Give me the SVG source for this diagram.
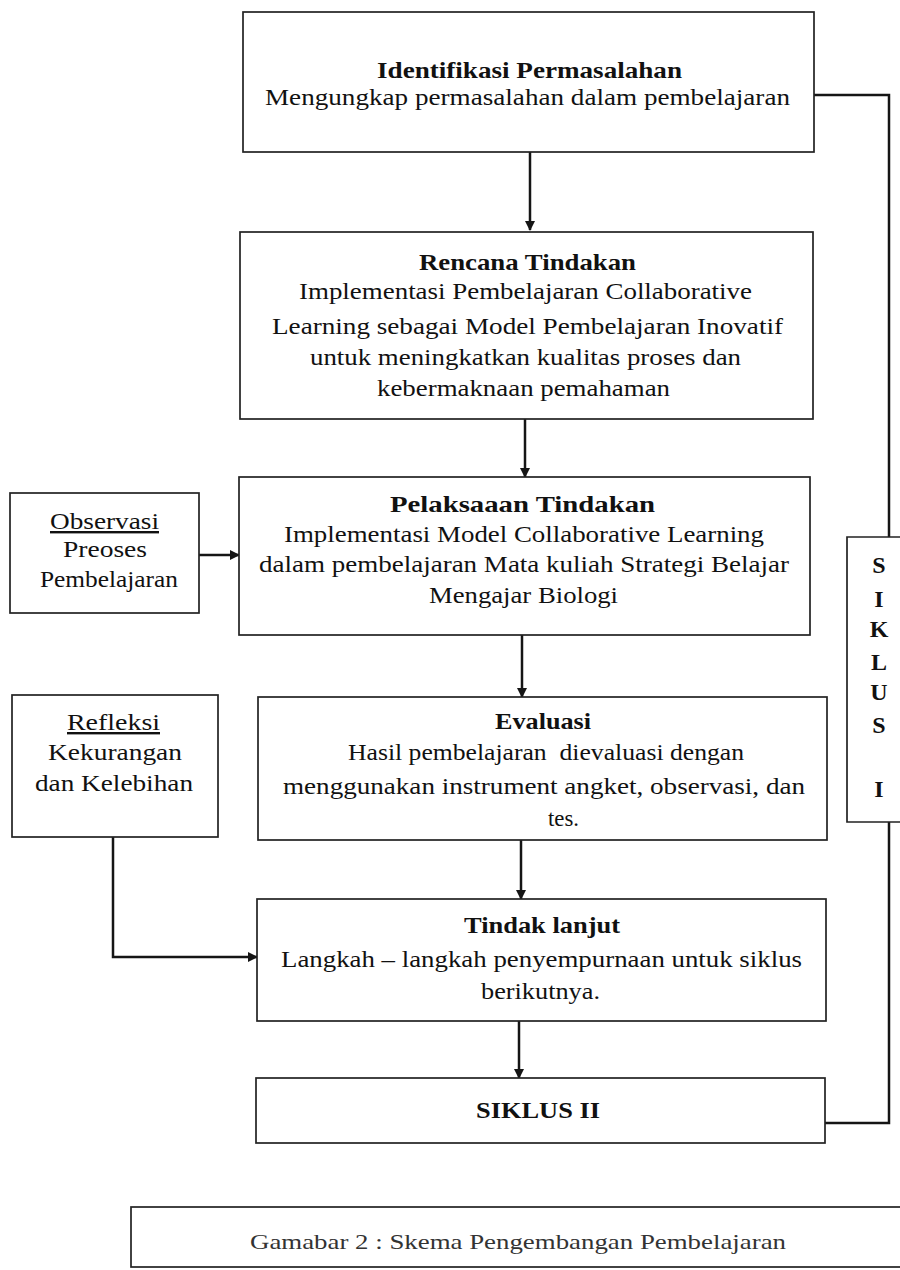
<svg xmlns="http://www.w3.org/2000/svg" width="900" height="1270" viewBox="0 0 900 1270">
<style>
.box{fill:#fff;stroke:#222;stroke-width:1.7}
.t{font-family:"Liberation Serif","Times New Roman",serif;font-size:24px;fill:#111}
.b{font-weight:bold}
.c{font-family:"Liberation Serif","Times New Roman",serif;font-size:22px;fill:#333}
.ln{fill:none;stroke:#151515;stroke-width:2.5}
.u{text-decoration:underline}
</style>
<defs>
<marker id="ah" markerWidth="10" markerHeight="10" refX="9" refY="5" orient="auto" markerUnits="userSpaceOnUse">
<path d="M0,0 L10,5 L0,10 Z" fill="#151515"/>
</marker>
</defs>
<rect width="900" height="1270" fill="#fff"/>
<g id="connectors">
<line class="ln" x1="530" y1="152" x2="530" y2="230" marker-end="url(#ah)"/>
<line class="ln" x1="525" y1="419" x2="525" y2="477" marker-end="url(#ah)"/>
<line class="ln" x1="522" y1="635" x2="522" y2="697" marker-end="url(#ah)"/>
<line class="ln" x1="521" y1="840" x2="521" y2="899" marker-end="url(#ah)"/>
<line class="ln" x1="519" y1="1021" x2="519" y2="1078" marker-end="url(#ah)"/>
<line class="ln" x1="199" y1="555" x2="239" y2="555" marker-end="url(#ah)"/>
<polyline class="ln" points="113,837 113,957 257,957" marker-end="url(#ah)"/>
<polyline class="ln" points="814,95 889,95 889,537"/>
<polyline class="ln" points="825,1123 889,1123 889,822"/>
</g>
<g id="identifikasi">
<rect class="box" x="243" y="12" width="571" height="140"/>
<text class="t b" x="377" y="78" textLength="305" lengthAdjust="spacingAndGlyphs">Identifikasi Permasalahan</text>
<text class="t" x="265" y="105" textLength="525" lengthAdjust="spacingAndGlyphs">Mengungkap permasalahan dalam pembelajaran</text>
</g>
<g id="rencana">
<rect class="box" x="240" y="232" width="573" height="187"/>
<text class="t b" x="419" y="270" textLength="217" lengthAdjust="spacingAndGlyphs">Rencana Tindakan</text>
<text class="t" x="299" y="299" textLength="453" lengthAdjust="spacingAndGlyphs">Implementasi Pembelajaran Collaborative</text>
<text class="t" x="272" y="334" textLength="511" lengthAdjust="spacingAndGlyphs">Learning sebagai Model Pembelajaran Inovatif</text>
<text class="t" x="310" y="365" textLength="431" lengthAdjust="spacingAndGlyphs">untuk meningkatkan kualitas proses dan</text>
<text class="t" x="377" y="396" textLength="293" lengthAdjust="spacingAndGlyphs">kebermaknaan pemahaman</text>
</g>
<g id="pelaksanaan">
<rect class="box" x="239" y="477" width="571" height="158"/>
<text class="t b" x="390" y="512" textLength="265" lengthAdjust="spacingAndGlyphs">Pelaksaaan Tindakan</text>
<text class="t" x="284" y="542" textLength="480" lengthAdjust="spacingAndGlyphs">Implementasi Model Collaborative Learning</text>
<text class="t" x="259" y="572" textLength="530" lengthAdjust="spacingAndGlyphs">dalam pembelajaran Mata kuliah Strategi Belajar</text>
<text class="t" x="429" y="603" textLength="189" lengthAdjust="spacingAndGlyphs">Mengajar Biologi</text>
</g>
<g id="observasi">
<rect class="box" x="10" y="493" width="189" height="120"/>
<text class="t u" x="50" y="529" textLength="109" lengthAdjust="spacingAndGlyphs">Observasi</text>
<text class="t" x="63" y="557" textLength="84" lengthAdjust="spacingAndGlyphs">Preoses</text>
<text class="t" x="40" y="587" textLength="138" lengthAdjust="spacingAndGlyphs">Pembelajaran</text>
</g>
<g id="evaluasi">
<rect class="box" x="258" y="697" width="569" height="143"/>
<text class="t b" x="495" y="729" textLength="96" lengthAdjust="spacingAndGlyphs">Evaluasi</text>
<text class="t" x="348" y="760" textLength="396" lengthAdjust="spacingAndGlyphs" xml:space="preserve">Hasil pembelajaran  dievaluasi dengan</text>
<text class="t" x="283" y="794" textLength="522" lengthAdjust="spacingAndGlyphs">menggunakan instrument angket, observasi, dan</text>
<text class="t" x="548" y="826" textLength="31" lengthAdjust="spacingAndGlyphs">tes.</text>
</g>
<g id="refleksi">
<rect class="box" x="12" y="695" width="206" height="142"/>
<text class="t u" x="67" y="730" textLength="93" lengthAdjust="spacingAndGlyphs">Refleksi</text>
<text class="t" x="48" y="760" textLength="134" lengthAdjust="spacingAndGlyphs">Kekurangan</text>
<text class="t" x="35" y="791" textLength="158" lengthAdjust="spacingAndGlyphs">dan Kelebihan</text>
</g>
<g id="tindak-lanjut">
<rect class="box" x="257" y="899" width="569" height="122"/>
<text class="t b" x="464" y="933" textLength="156" lengthAdjust="spacingAndGlyphs">Tindak lanjut</text>
<text class="t" x="281" y="967" textLength="521" lengthAdjust="spacingAndGlyphs">Langkah – langkah penyempurnaan untuk siklus</text>
<text class="t" x="481" y="999" textLength="119" lengthAdjust="spacingAndGlyphs">berikutnya.</text>
</g>
<g id="siklus-2">
<rect class="box" x="256" y="1078" width="569" height="65"/>
<text class="t b" x="476" y="1118" textLength="124" lengthAdjust="spacingAndGlyphs">SIKLUS II</text>
</g>
<g id="siklus-1">
<path class="box" d="M905,537 H847 V822 H905"/>
<g class="t b" text-anchor="middle">
<text x="879" y="573">S</text>
<text x="879" y="607">I</text>
<text x="879" y="637">K</text>
<text x="879" y="670">L</text>
<text x="879" y="700">U</text>
<text x="879" y="733">S</text>
<text x="879" y="797">I</text>
</g>
</g>
<g id="caption">
<rect class="box" x="131" y="1207" width="780" height="60"/>
<text class="c" x="250" y="1249" textLength="536" lengthAdjust="spacingAndGlyphs">Gamabar 2 : Skema Pengembangan Pembelajaran</text>
</g>
</svg>
